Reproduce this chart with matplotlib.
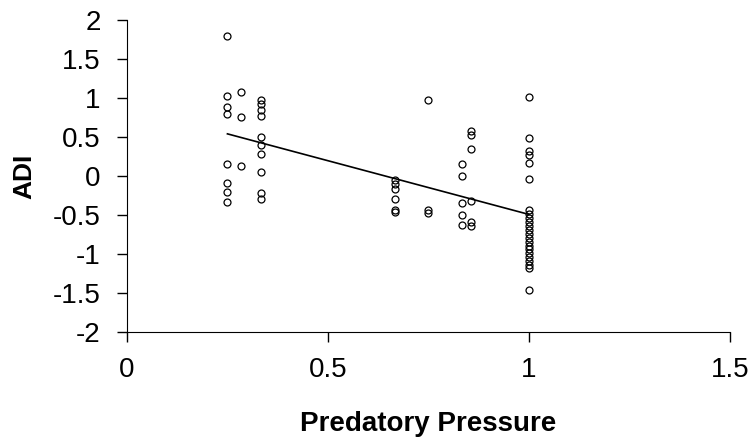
import matplotlib
matplotlib.use('Agg')
import matplotlib.pyplot as plt
import numpy as np

plt.rcParams['font.family'] = ['Liberation Sans', 'DejaVu Sans']

# predatory pressure (x) and ADI (y)
pressure_025 = [0.25] * 8
adi_025 = [1.79, 1.02, 0.88, 0.79, 0.15, -0.09, -0.21, -0.33]
pressure_0285 = [0.285] * 3
adi_0285 = [1.07, 0.75, 0.13]
pressure_033 = [0.333] * 10
adi_033 = [0.97, 0.92, 0.84, 0.77, 0.50, 0.40, 0.28, 0.05, -0.22, -0.29]
pressure_067 = [0.667] * 6
adi_067 = [-0.05, -0.10, -0.17, -0.30, -0.44, -0.46]
pressure_075 = [0.75] * 3
adi_075 = [0.97, -0.44, -0.48]
pressure_083 = [0.834] * 5
adi_083 = [0.16, 0.0, -0.35, -0.50, -0.63]
pressure_086 = [0.857] * 6
adi_086 = [0.57, 0.52, 0.34, -0.32, -0.59, -0.64]
pressure_1 = [1.0] * 23
adi_1 = [1.01, 0.49, 0.32, 0.27, 0.17, -0.04,
         -0.44, -0.49, -0.54, -0.59, -0.64, -0.69, -0.74, -0.79,
         -0.84, -0.89, -0.94, -0.99, -1.04, -1.09, -1.14, -1.18, -1.46]

x = np.array(pressure_025 + pressure_0285 + pressure_033 + pressure_067
             + pressure_075 + pressure_083 + pressure_086 + pressure_1)
y = np.array(adi_025 + adi_0285 + adi_033 + adi_067
             + adi_075 + adi_083 + adi_086 + adi_1)

fig = plt.figure(figsize=(7.51, 4.40), dpi=100)
ax = fig.add_axes([0.169, 0.245, 0.803, 0.71])

ax.plot(x, y, 'o', markersize=5, markerfacecolor='none',
        markeredgecolor='black', markeredgewidth=0.9)

# linear fit
slope, intercept = np.polyfit(x, y, 1)
xs = np.array([x.min(), x.max()])
ax.plot(xs, slope * xs + intercept, color='black', linewidth=1.2)

ax.set_xlim(0, 1.5)
ax.set_ylim(-2, 2)
ax.set_xticks([0, 0.5, 1, 1.5])
ax.set_xticklabels(['0', '0.5', '1', '1.5'])
ax.set_yticks(np.arange(-2, 2.01, 0.5))
ax.set_yticklabels(['-2', '-1.5', '-1', '-0.5', '0', '0.5', '1', '1.5', '2'])
ax.spines['top'].set_visible(False)
ax.spines['right'].set_visible(False)
ax.tick_params(direction='out', length=7, width=1, labelsize=20)
ax.tick_params(axis='x', pad=11)
ax.tick_params(axis='y', pad=12)

ax.set_xlabel('Predatory Pressure', fontsize=20, fontweight='bold', labelpad=20)
ax.set_ylabel('ADI', fontsize=19, fontweight='bold', labelpad=12)

fig.savefig('out.png', dpi=100)
